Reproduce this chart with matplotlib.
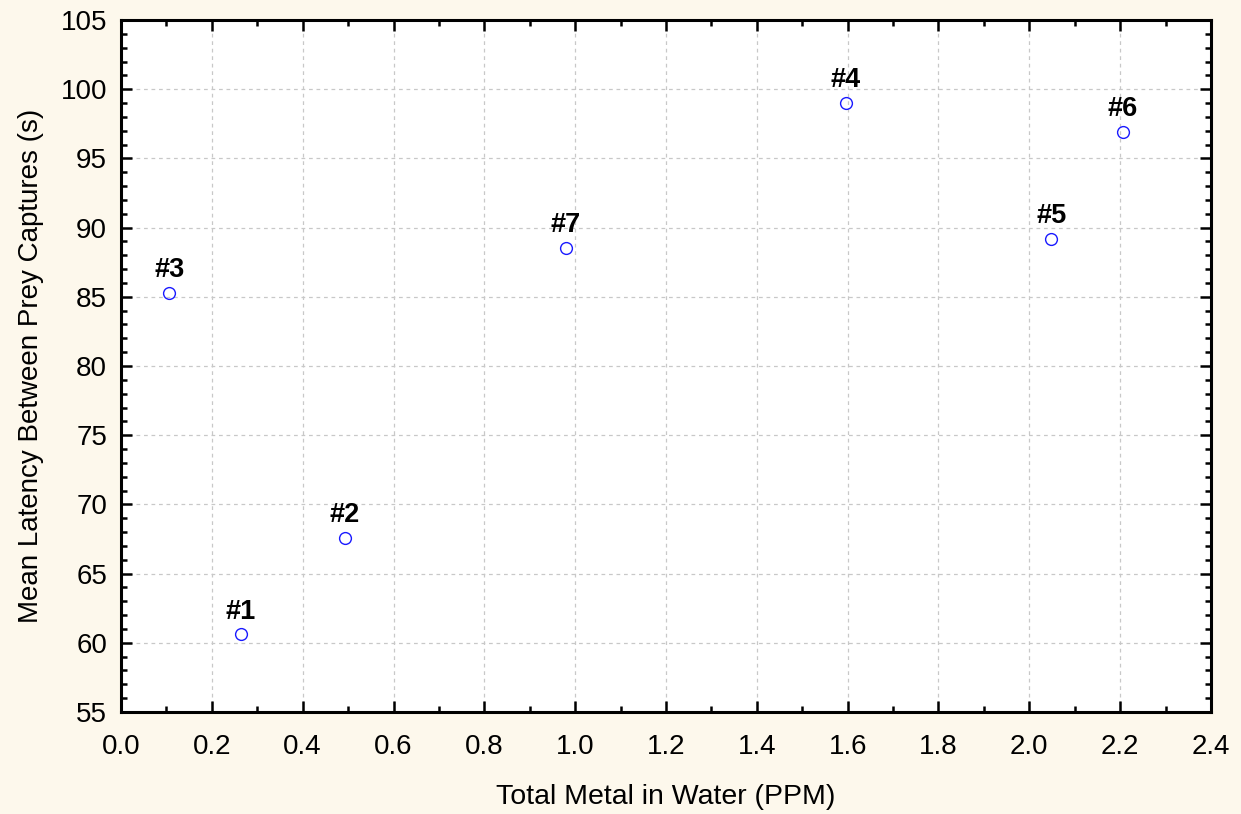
import numpy as np
import matplotlib.pyplot as plt
from matplotlib.ticker import MultipleLocator

plt.rcParams['font.family'] = ['Liberation Sans', 'DejaVu Sans']

# total metal (ppm) vs mean latency between prey captures (s), one point per site
sites = ['#1', '#2', '#3', '#4', '#5', '#6', '#7']
metal_ppm = [0.264, 0.493, 0.106, 1.596, 2.048, 2.206, 0.980]
latency_s = [60.6, 67.6, 85.3, 99.0, 89.2, 96.9, 88.5]

fig = plt.figure(figsize=(12.41, 8.14), dpi=100, facecolor='#fdf8ec')
ax = fig.add_axes([121 / 1241, 1 - 712 / 814, 1090 / 1241, 692 / 814])
ax.set_facecolor('white')

ax.plot(metal_ppm, latency_s, 'o', markersize=8.5, markerfacecolor='none',
        markeredgecolor='#1a1aff', markeredgewidth=1.0, zorder=3)
for name, x, y in zip(sites, metal_ppm, latency_s):
    ax.annotate(name, (x, y), xytext=(0, 11.5), textcoords='offset points',
                ha='center', va='baseline', fontsize=19.5, fontweight='bold')

ax.set_xlim(0, 2.4)
ax.set_ylim(55, 105)
ax.xaxis.set_major_locator(MultipleLocator(0.2))
ax.xaxis.set_minor_locator(MultipleLocator(0.1))
ax.yaxis.set_major_locator(MultipleLocator(5))
ax.yaxis.set_minor_locator(MultipleLocator(1))
ax.xaxis.set_major_formatter(plt.FormatStrFormatter('%.1f'))

ax.grid(True, which='major', linestyle=(0, (3, 3)), color='#c8c8c8', linewidth=0.9)
ax.tick_params(which='both', direction='in', top=True, right=True, width=1.8,
               labelsize=20)
ax.tick_params(axis='x', which='major', pad=16)
ax.tick_params(axis='y', which='major', pad=10)
ax.tick_params(which='major', length=8)
ax.tick_params(which='minor', length=4)
for s in ax.spines.values():
    s.set_linewidth(2.2)

ax.set_xlabel('Total Metal in Water (PPM)', fontsize=20.5, labelpad=17)
ax.set_ylabel('Mean Latency Between Prey Captures (s)', fontsize=20, labelpad=12)

fig.savefig('out.png', dpi=100, facecolor=fig.get_facecolor())
